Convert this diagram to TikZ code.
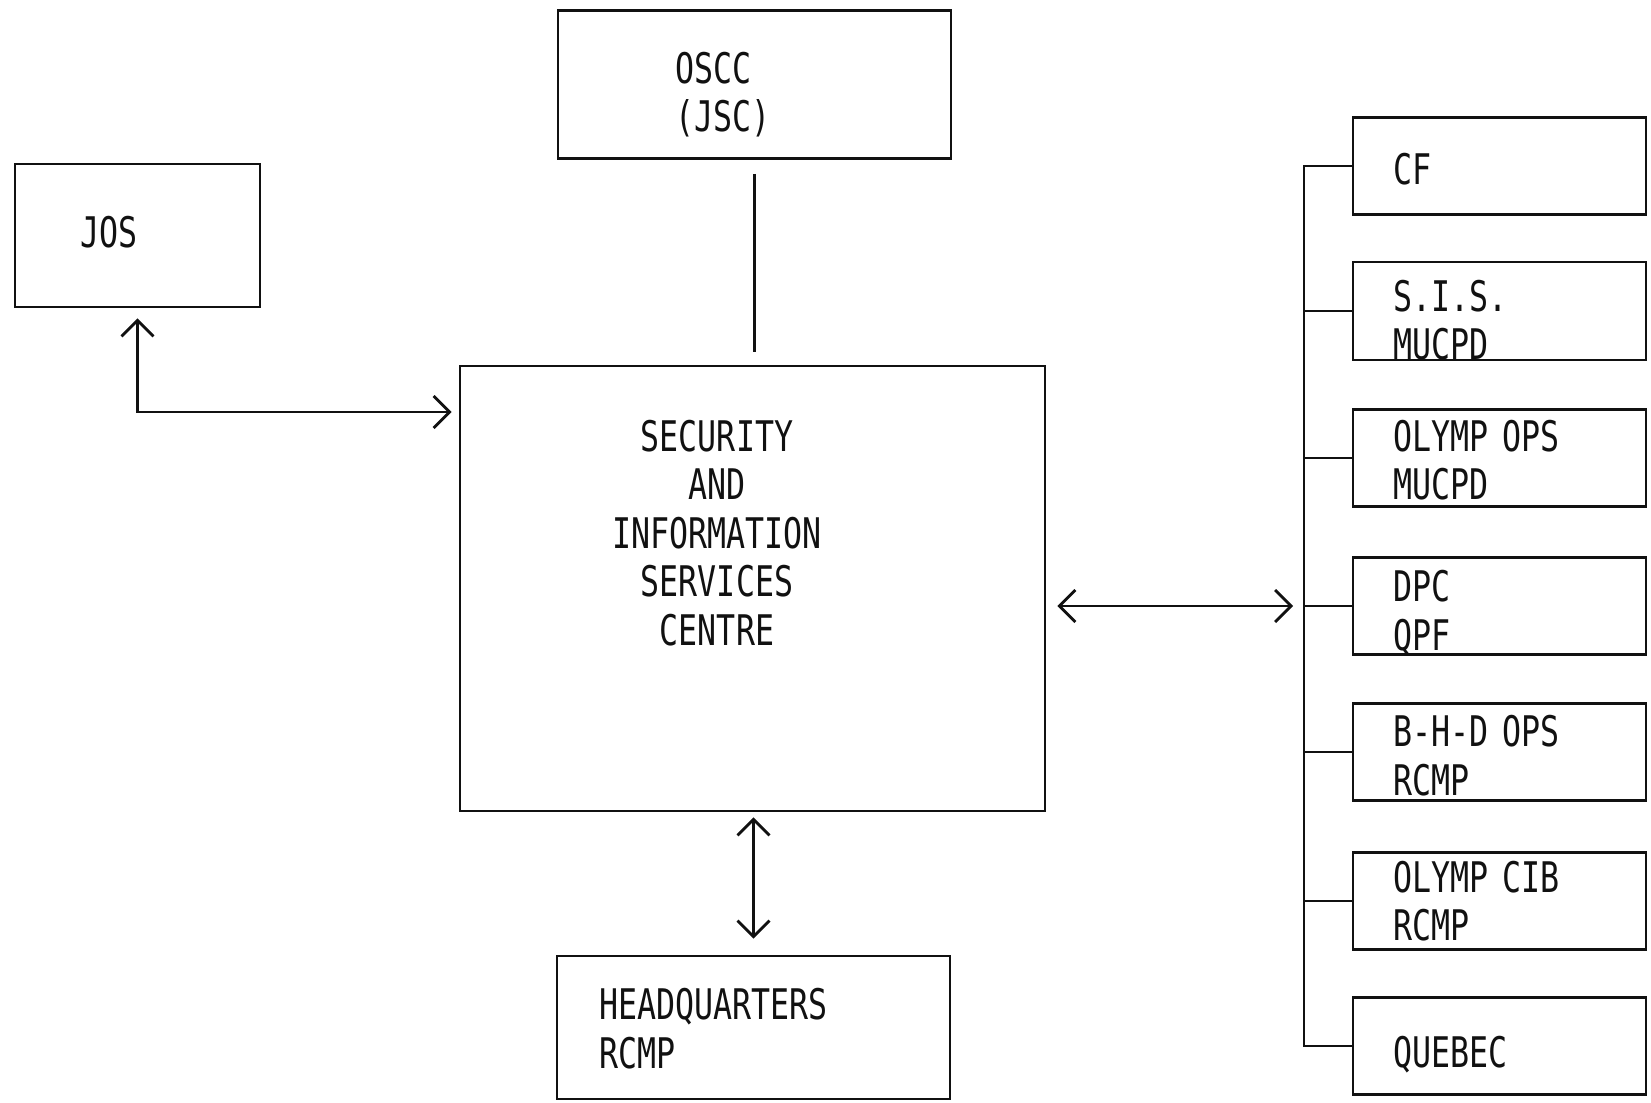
\documentclass[tikz,border=0pt]{standalone}
\usepackage{fontspec}
\usepackage{tikz}
\usetikzlibrary{positioning,arrows.meta}
\newfontfamily\fuenteMaq[FakeStretch=0.75]{DejaVu Sans Mono}
\newcommand{\letraMaq}{\fuenteMaq\fontsize{12pt}{13.8pt}\selectfont}
\definecolor{tinta}{HTML}{111111}
\tikzset{
  caja/.style={rectangle, draw=tinta, line width=0.8pt, font=\letraMaq,
    align=left, inner ysep=0pt, text=tinta},
  cajaDer/.style={caja, minimum width=2.93cm, minimum height=0.97cm,
    text width=2.13cm, inner xsep=0.4cm},
  linea/.style 2 args={text height=#1, text depth=#2},
  flechaDoble/.style={{Straight Barb[length=1.6mm,width=3.2mm]}-{Straight Barb[length=1.6mm,width=3.2mm]},
    line width=0.8pt, tinta},
  enlace/.style={-, line width=0.8pt, tinta},
}

\begin{document}
\begin{tikzpicture}
    \useasboundingbox (0,0) rectangle (16.51,-11.02);
    % centro y cajas principales
    \node[caja, linea={0.46cm}{0.49cm}, minimum width=3.93cm, minimum height=1.48cm, text width=1.59cm, inner xsep=1.17cm] (oscc) at (7.545,-0.845) {OSCC\\(JSC)};
    \node[caja, linea={0.23cm}{0pt}, minimum width=2.45cm, minimum height=1.43cm, text width=1.15cm, inner xsep=0.65cm] (jos) at (1.375,-2.355) {JOS};
    \node[caja, minimum width=5.85cm, minimum height=4.45cm] (sisc) at (7.525,-5.885) {};
    \node[font=\letraMaq, align=center, text=tinta] (siscT) at (7.17,-5.33) {SECURITY\\AND\\INFORMATION\\SERVICES\\CENTRE};
    \node[caja, linea={0.33cm}{0.49cm}, minimum width=3.93cm, minimum height=1.43cm, text width=3.09cm, inner xsep=0.42cm] (hq) at (7.535,-10.275) {HEADQUARTERS\\RCMP};
    % columna derecha
    \node[cajaDer, linea={0.37cm}{0pt}]    (cf)   at (14.995,-1.66)  {CF};
    \node[cajaDer, linea={0.49cm}{0.49cm}] (sis)  at (14.995,-3.11)  {S.I.S.\\MUCPD};
    \node[cajaDer, linea={0.35cm}{0.49cm}] (oops) at (14.995,-4.58)  {OLYMP OPS\\MUCPD};
    \node[cajaDer, linea={0.40cm}{0.49cm}] (dpc)  at (14.995,-6.06)  {DPC\\QPF};
    \node[cajaDer, linea={0.38cm}{0.49cm}] (bhd)  at (14.995,-7.52)  {B-H-D OPS\\RCMP};
    \node[cajaDer, linea={0.31cm}{0.49cm}] (cib)  at (14.995,-9.01)  {OLYMP CIB\\RCMP};
    \node[cajaDer, linea={0.43cm}{0pt}]    (que)  at (14.995,-10.46) {QUEBEC};
    \coordinate (bus) at (13.04,0);
    \coordinate (josCodo) at (0,-4.12);
    \draw[enlace] (cf.west) -- (cf.west -| bus) -- (que.west -| bus) -- (que.west);
    \foreach \n in {sis,oops,dpc,bhd,cib}{\draw[enlace] (\n.west -| bus) -- (\n.west);}
    % enlaces del centro
    \draw[flechaDoble, shorten <=1.1mm, shorten >=1.1mm] (sisc.east |- dpc.west) -- (bus |- dpc.west);
    \draw[enlace, shorten <=1.4mm, shorten >=1.3mm] (oscc.south) -- (oscc.south |- sisc.north);
    \draw[flechaDoble, shorten <=1mm, shorten >=0.7mm] (jos.south) |- (sisc.west |- josCodo);
    \draw[flechaDoble, shorten <=0.5mm, shorten >=1.6mm] (sisc.south -| hq.north) -- (hq.north);
  \end{tikzpicture}
\end{document}
